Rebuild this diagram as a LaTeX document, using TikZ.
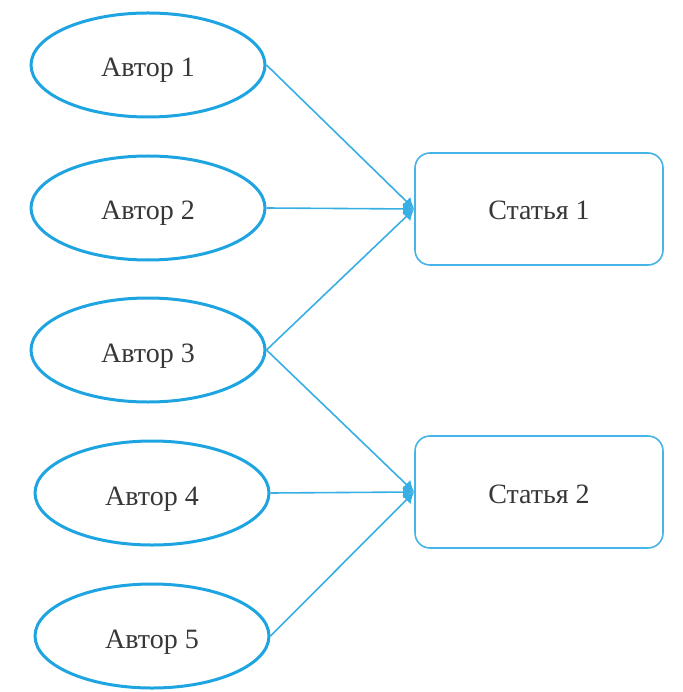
\documentclass[tikz,border=0pt]{standalone}
\usepackage{fontspec}
\setmainfont{Liberation Serif}
\usetikzlibrary{shapes.geometric,arrows.meta}
\definecolor{eblue}{RGB}{30,165,225}
\definecolor{rblue}{RGB}{70,180,230}
\definecolor{lblue}{RGB}{55,175,228}
\definecolor{tgray}{RGB}{55,55,55}
\begin{document}
\begin{tikzpicture}[x=1pt,y=-1pt,
  label text/.style={text=tgray,font=\fontsize{28}{30}\selectfont,text depth=4pt},
  author/.style={ellipse,draw=eblue,line width=3pt,minimum width=234pt,minimum height=104pt,inner sep=0pt,label text,text height=28pt},
  paper/.style={rectangle,rounded corners=15pt,draw=rblue,line width=1.6pt,minimum width=248pt,minimum height=112pt,inner sep=0pt,label text,text height=26pt},
  link/.style={draw=lblue,line width=1.6pt,-{Latex[length=11pt,width=12pt]}}]
\useasboundingbox (0,0) rectangle (682,692);
\node[author] (a1) at (148,65) {Автор 1};
\node[author] (a2) at (148,208) {Автор 2};
\node[author] (a3) at (148,350) {Автор 3};
\node[author] (a4) at (152,493) {Автор 4};
\node[author] (a5) at (152,636) {Автор 5};
\node[paper] (p1) at (539,209) {Статья 1};
\node[paper] (p2) at (539,492) {Статья 2};
\draw[link] (a1.east) -- (p1.west);
\draw[link] (a2.east) -- (p1.west);
\draw[link] (a3.east) -- (p1.west);
\draw[link] (a3.east) -- (p2.west);
\draw[link] (a4.east) -- (p2.west);
\draw[link] (a5.east) -- (p2.west);
\end{tikzpicture}
\end{document}
